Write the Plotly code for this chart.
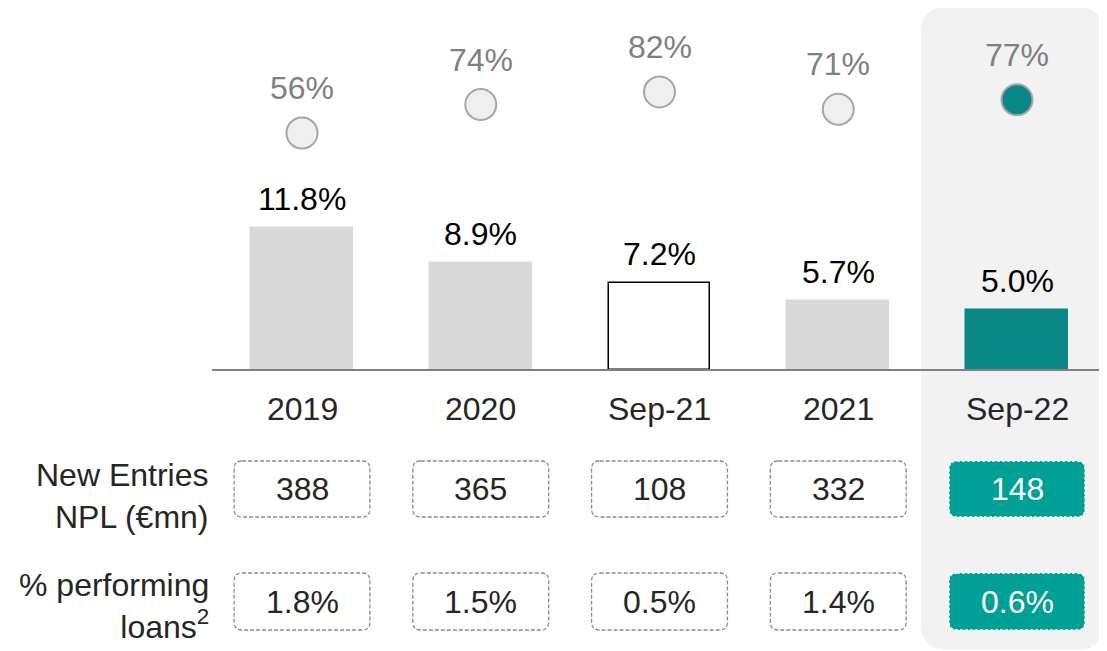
import plotly.graph_objects as go

periods = ["2019", "2020", "Sep-21", "2021", "Sep-22"]
npl_ratio = [11.8, 8.9, 7.2, 5.7, 5.0]
coverage = [56, 74, 82, 71, 77]
new_entries = ["388", "365", "108", "332", "148"]
perf_loans = ["1.8%", "1.5%", "0.5%", "1.4%", "0.6%"]
row_labels = ["New Entries<br>NPL (€mn)", "% performing<br>loans<sup>2</sup>"]

W, H = 1107, 651
OFF = 8  # page body margin
FONT = "Liberation Sans, Arial, sans-serif"
FS = 32
TEAL_DARK = "#0a8886"
TEAL = "#00a096"
GREY_BAR = "#d9d9d9"
TXT = "#262626"

x = list(range(len(periods)))
bar_fill = [GREY_BAR, GREY_BAR, "white", GREY_BAR, TEAL_DARK]
bar_line = [GREY_BAR, GREY_BAR, "black", GREY_BAR, TEAL_DARK]
dot_fill = ["#efefef"] * 4 + [TEAL_DARK]

fig = go.Figure()
fig.add_trace(go.Bar(x=x, y=npl_ratio, width=0.57,
                     marker=dict(color=bar_fill, line=dict(color=bar_line, width=1.5)),
                     hoverinfo="skip", showlegend=False))
fig.add_trace(go.Scatter(x=x, y=coverage, mode="markers", yaxis="y2",
                         marker=dict(size=31, color=dot_fill, line=dict(color="#a6a6a6", width=2)),
                         hoverinfo="skip", showlegend=False))

def py(p):
    # reference pixel row -> paper coordinate
    return 1 - (p - OFF) / H

px_unit = 178.75  # pixels per category step
x_c0 = 302 - OFF  # pixel of first category centre

def rrect(x0, x1, top, bot, r):
    rx = r / px_unit
    ry = r / H
    Y0, Y1 = py(bot), py(top)
    return (f"M {x0+rx},{Y1} L {x1-rx},{Y1} Q {x1},{Y1} {x1},{Y1-ry} "
            f"L {x1},{Y0+ry} Q {x1},{Y0} {x1-rx},{Y0} L {x0+rx},{Y0} "
            f"Q {x0},{Y0} {x0},{Y0+ry} L {x0},{Y1-ry} Q {x0},{Y1} {x0+rx},{Y1} Z")

shapes = []
hx0 = (921 - 302) / px_unit
hx1 = (1103 - 302) / px_unit
shapes.append(dict(type="path", xref="x", yref="paper", path=rrect(hx0, hx1, 7, 650, 26),
                   fillcolor="#f2f2f2", line=dict(width=0), layer="below"))
shapes.append(dict(type="line", xref="x", yref="y", x0=(212 - 302) / px_unit, x1=4.7, y0=0, y1=0,
                   line=dict(color="#808080", width=2), layer="above"))

annotations = []
for i, p in enumerate(periods):
    annotations.append(dict(x=i, y=npl_ratio[i], xref="x", yref="y", text=f"{npl_ratio[i]:.1f}%",
                            showarrow=False, yanchor="middle", yshift=29,
                            font=dict(size=FS, color="black", family=FONT)))
    annotations.append(dict(x=i, y=coverage[i], xref="x", yref="y2", text=f"{coverage[i]}%",
                            showarrow=False, yanchor="middle", yshift=45,
                            font=dict(size=FS, color="#808080", family=FONT)))
    annotations.append(dict(x=i, y=0, xref="x", yref="y", text=p, showarrow=False,
                            yanchor="middle", yshift=-39, font=dict(size=FS, color=TXT, family=FONT)))
    hi = i == len(periods) - 1
    for vals, (t, b) in ((new_entries, (461, 517)), (perf_loans, (573, 630))):
        shapes.append(dict(type="path", xref="x", yref="paper", path=rrect(i - 0.38, i + 0.38, t, b, 8),
                           fillcolor=TEAL if hi else "rgba(0,0,0,0)",
                           line=dict(color="white" if hi else "#8c8c8c", width=1.3,
                                     dash="3px,2px" if hi else "4px,2px")))
        annotations.append(dict(x=i, y=py((t + b) / 2), xref="x", yref="paper", text=vals[i],
                                showarrow=False, yanchor="middle",
                                font=dict(size=FS, color="white" if hi else TXT, family=FONT)))

for lab, yc in zip(row_labels, (496, 606)):
    annotations.append(dict(x=(211 - OFF) / W, y=py(yc), xref="paper", yref="paper", text=lab,
                            showarrow=False, xanchor="right", yanchor="middle", align="right",
                            font=dict(size=FS, color=TXT, family=FONT)))

fig.update_layout(
    width=W, height=H, margin=dict(l=0, r=0, t=0, b=0),
    plot_bgcolor="white", paper_bgcolor="white",
    xaxis=dict(range=[-x_c0 / px_unit, (W - x_c0) / px_unit], visible=False),
    yaxis=dict(range=[-(H - (370 - OFF)) / 12.03, (370 - OFF) / 12.03], visible=False),
    yaxis2=dict(range=[56 - (H - (133 - OFF)) / 1.58, 56 + (133 - OFF) / 1.58],
                overlaying="y", visible=False),
    shapes=shapes, annotations=annotations, bargap=0,
)

fig.write_html("out.html")
